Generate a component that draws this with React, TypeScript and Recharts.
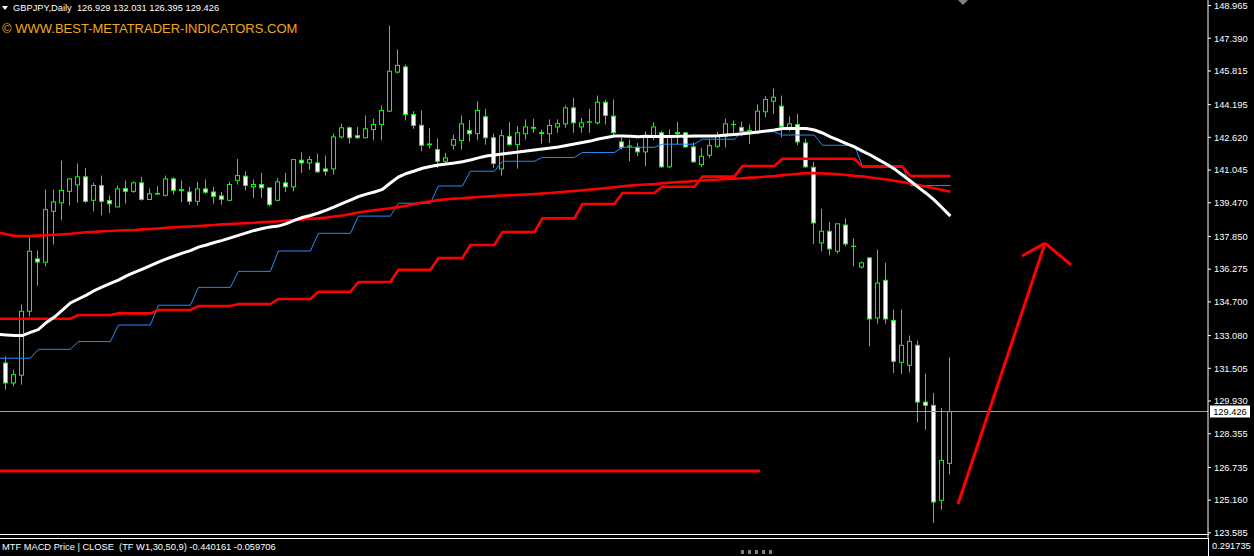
import React from 'react';
import { ComposedChart, Bar, Line, XAxis, YAxis, ReferenceLine } from 'recharts';

// GBPJPY daily candles, oldest first (first bar is cut by the left edge)
const firstBar = -1;
const opens = [
  131.70, 131.76, 130.80, 131.17, 134.25, 136.77, 136.61, 139.06, 139.47, 140.02,
  140.33, 140.72, 139.59, 140.30, 139.58, 139.27, 140.16, 140.02, 140.43, 139.63,
  139.92, 139.83, 140.62, 140.10, 139.99, 139.54, 140.14, 139.99, 139.80, 139.59,
  140.55, 140.75, 140.24, 140.35, 140.19, 139.59, 140.43, 140.24, 141.52, 141.39,
  141.39, 141.10, 141.10, 142.64, 143.08, 142.70, 142.60, 143.00, 143.24, 143.88,
  145.76, 146.01, 143.72, 143.20, 142.30, 142.03, 141.47, 142.24, 142.47, 142.95,
  142.80, 143.61, 142.60, 141.10, 142.67, 142.27, 142.79, 143.10, 142.85, 142.79,
  143.12, 143.27, 144.04, 143.12, 143.35, 143.32, 144.31, 143.64, 142.40, 142.20,
  142.14, 141.92, 142.67, 142.84, 141.20, 142.85, 142.84, 142.16, 141.31, 141.76,
  142.19, 142.67, 143.24, 143.10, 142.95, 142.84, 143.85, 144.36, 144.12, 143.10,
  143.24, 142.35, 141.18, 137.54, 138.10, 137.14, 138.40, 137.38, 136.38, 136.82,
  133.93, 135.74, 133.81, 131.79, 131.65, 132.61, 129.88, 129.72, 125.15, 126.929,
];
const highs = [
  132.00, 132.08, 131.44, 134.57, 137.83, 137.17, 140.11, 140.11, 141.50, 140.65,
  141.36, 141.15, 140.43, 140.78, 139.82, 140.30, 140.54, 140.50, 140.72, 140.16,
  140.27, 140.78, 140.70, 140.54, 140.24, 140.48, 140.59, 140.24, 139.99, 140.48,
  141.58, 140.99, 140.59, 140.91, 140.19, 140.67, 140.91, 141.55, 141.90, 141.71,
  141.84, 141.74, 142.80, 143.28, 143.15, 143.12, 143.67, 143.51, 144.15, 148.00,
  146.85, 146.12, 143.88, 143.91, 143.08, 142.56, 141.87, 142.75, 143.67, 143.44,
  144.36, 143.99, 142.80, 142.99, 143.35, 143.15, 143.48, 143.51, 142.99, 143.48,
  143.48, 144.15, 144.52, 143.56, 143.99, 144.63, 144.44, 144.44, 142.60, 142.51,
  142.35, 142.90, 143.35, 142.92, 142.99, 143.37, 142.87, 142.38, 142.11, 142.51,
  142.88, 143.52, 143.43, 143.37, 143.24, 144.20, 144.60, 144.97, 144.63, 143.63,
  143.75, 142.56, 141.44, 139.18, 138.55, 138.46, 138.71, 137.75, 136.65, 136.82,
  137.22, 136.58, 134.33, 134.33, 133.08, 132.84, 131.25, 130.32, 129.60, 132.031,
];
const lows = [
  130.90, 130.48, 130.64, 130.72, 134.00, 135.48, 136.41, 137.46, 138.63, 139.35,
  139.47, 139.47, 139.06, 138.87, 138.98, 139.27, 139.43, 139.95, 139.58, 139.63,
  139.85, 139.78, 139.86, 139.50, 139.38, 139.34, 139.90, 139.43, 139.38, 139.54,
  140.35, 140.07, 139.71, 139.71, 139.30, 139.54, 139.98, 140.02, 140.91, 141.07,
  140.91, 140.78, 140.83, 142.56, 142.32, 142.55, 142.60, 142.48, 142.48, 143.83,
  145.69, 143.44, 143.03, 141.95, 142.08, 141.15, 141.36, 142.03, 142.03, 142.43,
  142.48, 142.27, 141.15, 140.78, 142.22, 141.12, 142.51, 142.84, 142.32, 142.35,
  142.84, 143.08, 142.84, 142.84, 142.84, 143.24, 143.24, 142.67, 142.03, 141.47,
  141.71, 141.23, 142.48, 141.15, 141.15, 142.27, 142.11, 141.39, 141.20, 141.63,
  142.11, 142.14, 142.79, 142.67, 142.30, 142.79, 143.59, 143.75, 142.62, 142.91,
  142.24, 141.15, 137.49, 137.14, 136.94, 137.02, 137.38, 136.41, 136.30, 132.56,
  133.65, 133.65, 131.28, 131.23, 131.31, 128.90, 128.55, 124.06, 124.70, 126.395,
];
const closes = [
  131.25, 130.80, 131.20, 134.25, 137.14, 136.62, 139.14, 139.51, 140.06, 140.62,
  140.72, 139.54, 140.30, 139.54, 139.42, 140.14, 140.02, 140.43, 139.63, 139.90,
  139.89, 140.62, 140.07, 140.05, 139.54, 140.14, 139.98, 139.78, 139.64, 140.35,
  140.78, 140.30, 140.35, 140.19, 139.38, 140.48, 140.24, 141.55, 141.39, 141.55,
  140.96, 140.99, 142.64, 143.08, 142.60, 142.60, 143.03, 143.24, 143.91, 145.80,
  146.08, 143.72, 143.19, 142.24, 142.26, 141.47, 141.63, 142.51, 143.27, 142.79,
  143.91, 142.60, 141.36, 142.70, 142.27, 142.84, 143.12, 143.06, 142.80, 143.19,
  143.28, 144.04, 143.32, 143.32, 143.37, 144.31, 143.67, 142.84, 142.14, 142.19,
  141.92, 142.70, 143.12, 141.20, 142.67, 142.80, 142.16, 141.44, 141.71, 142.22,
  142.67, 143.27, 143.24, 142.91, 142.90, 143.88, 144.44, 144.55, 143.15, 143.27,
  142.40, 141.20, 138.50, 138.10, 137.25, 138.46, 137.49, 137.37, 136.58, 133.88,
  135.61, 133.88, 131.84, 132.61, 132.80, 129.88, 129.72, 125.07, 127.07, 129.426,
];

// indicator lines, one value per bar
const maWhite = [
  133.13, 133.11, 133.08, 133.08, 133.23, 133.37, 133.71, 133.97, 134.31, 134.65,
  134.84, 135.03, 135.25, 135.42, 135.59, 135.75, 135.95, 136.12, 136.28, 136.45,
  136.62, 136.77, 136.91, 137.05, 137.17, 137.34, 137.44, 137.56, 137.66, 137.78,
  137.90, 138.02, 138.14, 138.23, 138.31, 138.35, 138.47, 138.62, 138.76, 138.86,
  138.98, 139.12, 139.27, 139.44, 139.60, 139.77, 139.89, 139.99, 140.11, 140.42,
  140.71, 140.88, 141.00, 141.13, 141.22, 141.29, 141.34, 141.39, 141.45, 141.53,
  141.63, 141.72, 141.77, 141.82, 141.87, 141.91, 141.96, 142.01, 142.06, 142.11,
  142.16, 142.23, 142.30, 142.37, 142.44, 142.54, 142.61, 142.68, 142.68, 142.67,
  142.65, 142.67, 142.66, 142.66, 142.66, 142.67, 142.67, 142.68, 142.68, 142.69,
  142.70, 142.73, 142.76, 142.79, 142.83, 142.88, 142.93, 142.97, 143.05, 143.05,
  143.05, 143.05, 142.97, 142.83, 142.64, 142.49, 142.32, 142.16, 141.96, 141.77,
  141.55, 141.34, 141.10, 140.81, 140.52, 140.21, 139.92, 139.60, 139.22, 138.83,
];
const stepBlue = [
  131.99, 131.99, 131.99, 131.99, 131.99, 132.42, 132.42, 132.42, 132.42, 132.42,
  132.79, 132.79, 132.79, 132.79, 132.79, 133.59, 133.59, 133.59, 133.59, 133.59,
  134.54, 134.54, 134.54, 134.54, 134.54, 135.40, 135.40, 135.40, 135.40, 135.40,
  136.17, 136.17, 136.17, 136.17, 136.17, 137.15, 137.15, 137.15, 137.15, 137.15,
  138.00, 138.00, 138.00, 138.00, 138.00, 138.83, 138.83, 138.83, 138.83, 138.83,
  139.45, 139.45, 139.45, 139.45, 139.45, 140.28, 140.28, 140.28, 140.28, 140.99,
  140.99, 140.99, 140.99, 141.47, 141.47, 141.47, 141.47, 141.47, 141.65, 141.65,
  141.65, 141.65, 141.65, 141.89, 141.89, 141.89, 141.89, 141.89, 142.14, 142.14,
  142.14, 142.14, 142.14, 142.29, 142.29, 142.29, 142.29, 142.29, 142.53, 142.53,
  142.53, 142.53, 142.53, 142.89, 142.89, 142.89, 142.89, 142.89, 142.73, 142.73,
  142.73, 142.73, 142.73, 142.24, 142.24, 142.24, 142.24, 142.24, 141.24, 141.24,
  141.24, 141.24, 141.24, 141.24, 140.30, 140.30, 140.30, 140.30, 140.30, 140.30,
];
const stepRed = [
  133.89, 133.89, 133.89, 133.89, 133.89, 133.89, 133.89, 133.89, 133.89, 133.89,
  134.07, 134.07, 134.07, 134.07, 134.07, 134.15, 134.15, 134.15, 134.15, 134.15,
  134.31, 134.31, 134.31, 134.31, 134.31, 134.50, 134.50, 134.50, 134.50, 134.50,
  134.60, 134.60, 134.60, 134.60, 134.60, 134.84, 134.84, 134.84, 134.84, 134.84,
  135.19, 135.19, 135.19, 135.19, 135.19, 135.66, 135.66, 135.66, 135.66, 135.66,
  136.24, 136.24, 136.24, 136.24, 136.24, 136.81, 136.81, 136.81, 136.81, 137.44,
  137.44, 137.44, 137.44, 138.06, 138.06, 138.06, 138.06, 138.06, 138.72, 138.72,
  138.72, 138.72, 138.72, 139.41, 139.41, 139.41, 139.41, 139.41, 139.94, 139.94,
  139.94, 139.94, 139.94, 140.24, 140.24, 140.24, 140.24, 140.24, 140.73, 140.73,
  140.73, 140.73, 140.73, 141.24, 141.24, 141.24, 141.24, 141.24, 141.59, 141.59,
  141.59, 141.59, 141.59, 141.59, 141.59, 141.59, 141.59, 141.59, 141.21, 141.21,
  141.21, 141.21, 141.21, 141.21, 140.76, 140.76, 140.76, 140.76, 140.76, 140.76,
];
const maRed = [
  138.04, 137.96, 137.88, 137.87, 137.87, 137.89, 137.91, 137.93, 137.95, 137.98,
  138.02, 138.05, 138.07, 138.10, 138.11, 138.14, 138.15, 138.16, 138.19, 138.21,
  138.23, 138.27, 138.29, 138.31, 138.33, 138.35, 138.38, 138.40, 138.43, 138.45,
  138.47, 138.49, 138.51, 138.54, 138.56, 138.58, 138.61, 138.64, 138.67, 138.70,
  138.72, 138.76, 138.81, 138.86, 138.93, 139.00, 139.06, 139.11, 139.16, 139.21,
  139.27, 139.33, 139.41, 139.48, 139.54, 139.60, 139.64, 139.67, 139.69, 139.72,
  139.75, 139.77, 139.80, 139.82, 139.84, 139.85, 139.87, 139.89, 139.92, 139.94,
  139.98, 140.01, 140.04, 140.07, 140.11, 140.14, 140.18, 140.22, 140.26, 140.30,
  140.33, 140.35, 140.37, 140.41, 140.44, 140.47, 140.49, 140.52, 140.54, 140.57,
  140.59, 140.62, 140.63, 140.65, 140.68, 140.70, 140.73, 140.76, 140.80, 140.83,
  140.87, 140.90, 140.90, 140.88, 140.86, 140.84, 140.81, 140.77, 140.74, 140.69,
  140.64, 140.59, 140.53, 140.47, 140.40, 140.33, 140.24, 140.17, 140.09, 140.00,
];

const priceTicks = [
  148.965, 147.39, 145.815, 144.195, 142.62, 141.045, 139.47, 137.85, 136.275,
  134.7, 133.08, 131.505, 129.93, 128.355, 126.735, 125.16, 123.585,
];

// drawn objects: horizontal trend line and the red arrow (bar index, price)
const trendLine = [{ x: -0.8, y: 126.56 }, { x: 94.2, y: 126.56 }];
const arrowShaft = [{ x: 118.95, y: 124.97 }, { x: 129.83, y: 137.53 }];
const arrowLeft = [{ x: 126.95, y: 136.91 }, { x: 129.83, y: 137.53 }];
const arrowRight = [{ x: 129.83, y: 137.53 }, { x: 133.08, y: 136.48 }];

const lastClose = closes[closes.length - 1];

const rows = opens.map((o, k) => ({
  i: firstBar + k,
  open: o,
  high: highs[k],
  low: lows[k],
  close: closes[k],
  range: [lows[k], highs[k]],
  maWhite: maWhite[k],
  stepBlue: stepBlue[k],
  stepRed: stepRed[k],
  maRed: maRed[k],
}));

const FONT = '"Liberation Sans", Arial, sans-serif';
const GREEN = '#00ff00';

const Candle = (props: any) => {
  const { x, y, width, height, payload } = props;
  if (!payload || height == null) return null;
  const { open, close, high, low } = payload;
  const cx = Math.floor(x + width / 2) + 0.5;
  const span = high - low || 1;
  const py = (p: number) => y + ((high - p) / span) * height;
  const top = py(Math.max(open, close));
  const bot = py(Math.min(open, close));
  const bull = close > open;
  return (
    <g>
      <line x1={cx} x2={cx} y1={y} y2={y + height} stroke={GREEN} strokeWidth={1} />
      <rect
        x={cx - 2}
        y={top}
        width={4}
        height={Math.max(bot - top, 0.01)}
        fill={bull ? '#000' : '#fff'}
        stroke={GREEN}
        strokeWidth={1}
      />
    </g>
  );
};

const PriceTag = (props: any) => {
  const vb = props.viewBox;
  if (!vb) return null;
  const x = vb.x + vb.width + 2;
  const y = vb.y;
  return (
    <g>
      <rect x={x} y={y - 6} width={40} height={12} fill="#fff" />
      <text x={x + 20} y={y} dy="0.355em" textAnchor="middle" fill="#000" fontSize={9.3} fontFamily={FONT}>
        {lastClose.toFixed(3)}
      </text>
    </g>
  );
};

const text = (extra: React.CSSProperties): React.CSSProperties => ({
  position: 'absolute',
  fontFamily: FONT,
  whiteSpace: 'pre',
  ...extra,
});

export default function App() {
  return (
    <div
      style={{
        position: 'fixed',
        left: 0,
        top: 0,
        width: 1254,
        height: 556,
        background: '#000',
        overflow: 'hidden',
      }}
    >
      <ComposedChart width={1254} height={556} data={rows} margin={{ top: 0, right: 0, bottom: 18, left: 0 }}>
        <XAxis type="number" dataKey="i" domain={[-0.8, 150.2]} allowDataOverflow hide />
        <YAxis
          orientation="right"
          type="number"
          domain={[123.338, 149.2297]}
          allowDataOverflow
          ticks={priceTicks}
          interval={0}
          width={46}
          axisLine={{ stroke: '#fff' }}
          tickLine={{ stroke: '#fff' }}
          tickSize={3}
          tickMargin={3}
          tick={{ fill: '#fff', fontSize: 9.3, fontFamily: FONT }}
          tickFormatter={(v: number) => v.toFixed(3)}
        />
        <ReferenceLine y={lastClose} stroke="#a0a0a0" strokeWidth={1} label={(p: any) => <PriceTag {...p} />} />
        <Bar dataKey="range" barSize={5} shape={<Candle />} isAnimationActive={false} />
        <Line dataKey="stepBlue" type="linear" stroke="#1e90ff" strokeWidth={1} dot={false} activeDot={false} isAnimationActive={false} />
        <Line dataKey="stepRed" type="linear" stroke="#ff0000" strokeWidth={2.6} dot={false} activeDot={false} isAnimationActive={false} />
        <Line dataKey="maRed" type="linear" stroke="#ff0000" strokeWidth={2.6} dot={false} activeDot={false} isAnimationActive={false} />
        <Line dataKey="maWhite" type="linear" stroke="#ffffff" strokeWidth={3} dot={false} activeDot={false} isAnimationActive={false} />
        <ReferenceLine segment={trendLine} stroke="#ff0000" strokeWidth={3} />
        <ReferenceLine segment={arrowShaft} stroke="#ff0000" strokeWidth={3} />
        <ReferenceLine segment={arrowLeft} stroke="#ff0000" strokeWidth={3} />
        <ReferenceLine segment={arrowRight} stroke="#ff0000" strokeWidth={3} />
      </ComposedChart>

      {/* header */}
      <div
        style={{
          position: 'absolute',
          left: 2,
          top: 6,
          width: 0,
          height: 0,
          borderLeft: '3px solid transparent',
          borderRight: '3px solid transparent',
          borderTop: '4px solid #fff',
        }}
      />
      <div style={text({ left: 13, top: 2.4, fontSize: 9.3, lineHeight: '12px', color: '#fff' })}>
        {'GBPJPY,Daily  126.929 132.031 126.395 129.426'}
      </div>
      <div style={text({ left: 2, top: 20.6, fontSize: 13, lineHeight: '16px', color: '#f0a81c' })}>
        {'\u00a9 WWW.BEST-METATRADER-INDICATORS.COM'}
      </div>
      <div
        style={{
          position: 'absolute',
          left: 958,
          top: 0,
          width: 0,
          height: 0,
          borderLeft: '5px solid transparent',
          borderRight: '5px solid transparent',
          borderTop: '5px solid #808080',
        }}
      />

      {/* indicator sub-window */}
      <div style={{ position: 'absolute', left: 0, top: 534, width: 1209, height: 1, background: '#fff' }} />
      <div style={{ position: 'absolute', left: 0, top: 538, width: 1209, height: 1, background: '#fff' }} />
      <div style={{ position: 'absolute', left: 1208, top: 538, width: 1, height: 18, background: '#fff' }} />
      <div style={text({ left: 2, top: 540.8, fontSize: 9.3, lineHeight: '12px', color: '#fff' })}>
        {'MTF MACD Price | CLOSE  (TF W1,30,50,9) -0.440161 -0.059706'}
      </div>
      <div style={text({ left: 1212, top: 539.6, fontSize: 9.3, lineHeight: '12px', color: '#fff' })}>
        {'0.291735'}
      </div>
      <div style={{ position: 'absolute', left: 741, top: 550, display: 'flex', gap: 4 }}>
        {[0, 1, 2, 3, 4].map((k) => (
          <div key={k} style={{ width: 3, height: 4, background: '#808080' }} />
        ))}
      </div>
    </div>
  );
}
